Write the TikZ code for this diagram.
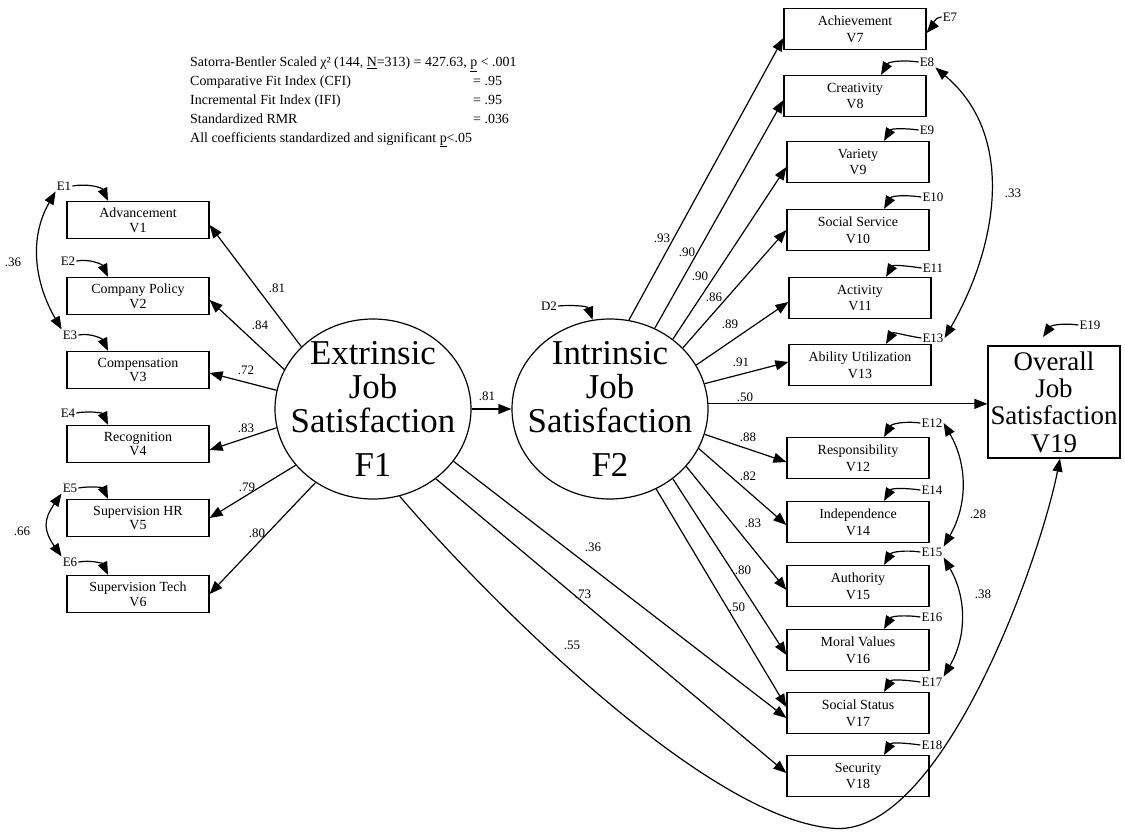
\documentclass[tikz,border=0pt]{standalone}
\usepackage{fontspec}
\setmainfont{Liberation Serif}
\usetikzlibrary{arrows.meta,shapes.geometric}
\tikzset{
 obs/.style={draw, line width=1.2bp, minimum width=142bp, minimum height=37bp, inner sep=0pt, align=center, font=\fontsize{14}{15}\selectfont},
 obsr/.style={obs, minimum height=41bp, font=\fontsize{14}{17}\selectfont},
 lat/.style={draw, ellipse, line width=1.2bp, minimum width=196bp, minimum height=180bp, inner sep=0pt},
 lattext/.style={align=center, font=\fontsize{35}{34}\selectfont, inner sep=0pt},
 coef/.style={font=\fontsize{13}{14}\selectfont, inner sep=1bp},
 err/.style={font=\fontsize{13}{14}\selectfont, inner sep=1bp},
 pth/.style={line width=1.2bp, -{Triangle[length=13bp,width=10bp]}},
 cov/.style={line width=1.2bp, {Triangle[length=13bp,width=10bp]}-{Triangle[length=13bp,width=10bp]}},
}
\begin{document}
\begin{tikzpicture}[x=1bp,y=1bp]
\useasboundingbox (0,0) rectangle (1125,-835);

% fit statistics
\node[anchor=north west, inner sep=0pt, font=\fontsize{14}{19}\selectfont] (fit) at (190,-53) {\begin{tabular}{@{}p{283bp}@{}l@{}}
\multicolumn{2}{@{}l@{}}{Satorra-Bentler Scaled χ² (144, \underline{N}=313) = 427.63, \underline{p} < .001}\\
Comparative Fit Index (CFI) & = .95\\
Incremental Fit Index (IFI) & = .95\\
Standardized RMR & = .036\\
\multicolumn{2}{@{}l@{}}{All coefficients standardized and significant \underline{p}<.05}
\end{tabular}};

% left observed
\node[obs] (V1) at (138,-220) {Advancement\\V1};
\node[obs] (V2) at (138,-296) {Company Policy\\V2};
\node[obs] (V3) at (138,-370) {Compensation\\V3};
\node[obs] (V4) at (138,-444) {Recognition\\V4};
\node[obs] (V5) at (138,-518) {Supervision HR\\V5};
\node[obs] (V6) at (138,-594) {Supervision Tech\\V6};

% right observed
\node[obsr] (V7) at (855,-29) {Achievement\\V7};
\node[obsr] (V8) at (855,-96) {Creativity\\V8};
\node[obsr] (V9) at (858,-162) {Variety\\V9};
\node[obsr] (V10) at (858,-230) {Social Service\\V10};
\node[obsr] (V11) at (860,-298) {Activity\\V11};
\node[obsr] (V13) at (860,-365) {Ability Utilization\\V13};
\node[obsr] (V12) at (858,-458) {Responsibility\\V12};
\node[obsr] (V14) at (858,-522) {Independence\\V14};
\node[obsr] (V15) at (858,-586) {Authority\\V15};
\node[obsr] (V16) at (858,-650) {Moral Values\\V16};
\node[obsr] (V17) at (858,-713) {Social Status\\V17};
\node[obsr] (V18) at (858,-776) {Security\\V18};

\node[draw, line width=1.2bp, minimum width=132bp, minimum height=112bp, inner sep=0pt, align=center, font=\fontsize{27}{27.5}\selectfont] (V19) at (1054,-402) {Overall\\Job\\Satisfaction\\V19};

% latent
\node[lat] (F1) at (373,-409) {};
\node[lattext] (F1t) at (373,-409) {Extrinsic\\Job\\Satisfaction\\[10bp]F1};
\node[lat] (F2) at (610,-409) {};
\node[lattext] (F2t) at (610,-409) {Intrinsic\\Job\\Satisfaction\\[10bp]F2};

% error labels
\node[err] (E1) at (64,-186) {E1};
\node[err] (E2) at (68,-261) {E2};
\node[err] (E3) at (70,-335) {E3};
\node[err] (E4) at (68,-413) {E4};
\node[err] (E5) at (70,-488) {E5};
\node[err] (E6) at (70,-562) {E6};
\node[err] (E7) at (950,-17) {E7};
\node[err] (E8) at (927,-62) {E8};
\node[err] (E9) at (927,-130) {E9};
\node[err] (E10) at (933,-197) {E10};
\node[err] (E11) at (933,-268) {E11};
\node[err] (E13) at (933,-338) {E13};
\node[err] (E12) at (932,-423) {E12};
\node[err] (E14) at (932,-490) {E14};
\node[err] (E15) at (932,-552) {E15};
\node[err] (E16) at (932,-617) {E16};
\node[err] (E17) at (932,-682) {E17};
\node[err] (E18) at (932,-745) {E18};
\node[err] (E19) at (1090,-325) {E19};
\node[err] (D2) at (549,-306) {D2};
\coordinate (e19t) at (1043,-337);
\coordinate (low) at (830,-828);

% error arrows left
\foreach \i in {1,...,6}{\draw[pth] (E\i.east) to[out=10,in=115] ([xshift=-30bp]V\i.north);}
% error arrows right
\draw[pth] (E7.west) to[out=185,in=50] ([yshift=-4bp]V7.east);
\foreach \i in {8,9,10,11,13,12,14,15,16,17,18}{\draw[pth] (E\i.west) to[out=172,in=60] ([xshift=26bp]V\i.north);}
\draw[pth] (E19.west) to[out=172,in=55] (e19t);
\draw[pth] (D2.east) to[out=5,in=110] (F2.101);

% covariances
\draw[cov] (E1.south west) to[out=240,in=120] (E3.north west);
\draw[cov] (E5.south west) to[out=235,in=125,looseness=1.3] (E6.north west);
\draw[cov] (E8.south east) to[out=-40,in=60] (E13.east);
\draw[cov] (E12.east) to[out=-60,in=60] (E15.north east);
\draw[cov] (E15.south east) to[out=-60,in=60] (E17.north east);

% F1 paths
\draw[pth] (F1.139) -- ([yshift=-5bp]V1.east);
\draw[pth] (F1.156) -- ([yshift=-4bp]V2.east);
\draw[pth] (F1.169) -- ([yshift=-3bp]V3.east);
\draw[pth] (F1.191) -- ([yshift=-6bp]V4.east);
\draw[pth] (F1.216) -- (V5.east);
\draw[pth] (F1.232) -- (V6.east);
\draw[pth] (F1) -- (F2);
\draw[pth] (F1.-33) -- ([yshift=-5bp]V17.west);
\draw[pth] (F1.-48) -- ([yshift=3bp]V18.west);
\draw[pth] (F1.-73) .. controls (480,-590) and (700,-815) .. (low) .. controls (940,-843) and (1040,-560) .. ([xshift=6bp]V19.south);

% F2 paths
\draw[pth] (F2.78) -- ([yshift=-9bp]V7.west);
\draw[pth] (F2.61) -- ([yshift=-4bp]V8.west);
\draw[pth] (F2.48) -- ([yshift=-5bp]V9.west);
\draw[pth] (F2.40) -- (V10.west);
\draw[pth] (F2.27) -- ([yshift=-4bp]V11.west);
\draw[pth] (F2.15) -- ([yshift=3bp]V13.west);
\draw[pth] (F2.3) -- (F2.3 -| V19.west);
\draw[pth] (F2.-15) -- ([yshift=-4bp]V12.west);
\draw[pth] (F2.-24.5) -- ([yshift=-3bp]V14.west);
\draw[pth] (F2.-37) -- ([yshift=-4bp]V15.west);
\draw[pth] (F2.-48) -- ([yshift=-5bp]V16.west);
\draw[pth] (F2.-60) -- ([yshift=6bp]V17.west);

% coefficients
\node[coef] (c1) at (277,-288) {.81};
\node[coef] (c2) at (260,-325) {.84};
\node[coef] (c3) at (246,-370) {.72};
\node[coef] (c4) at (246,-428) {.83};
\node[coef] (c5) at (247,-487) {.79};
\node[coef] (c6) at (257,-533) {.80};
\node[coef] (c7) at (487,-396) {.81};
\node[coef] (c8) at (662,-238) {.93};
\node[coef] (c9) at (687,-252) {.90};
\node[coef] (c10) at (700,-276) {.90};
\node[coef] (c11) at (714,-297) {.86};
\node[coef] (c12) at (730,-324) {.89};
\node[coef] (c13) at (741,-362) {.91};
\node[coef] (c14) at (745,-397) {.50};
\node[coef] (c15) at (748,-437) {.88};
\node[coef] (c16) at (748,-476) {.82};
\node[coef] (c17) at (753,-523) {.83};
\node[coef] (c18) at (743,-570) {.80};
\node[coef] (c19) at (737,-607) {.50};
\node[coef] (c20) at (593,-547) {.36};
\node[coef] (c21) at (583,-594) {.73};
\node[coef] (c22) at (572,-645) {.55};
\node[coef] (c23) at (13,-262) {.36};
\node[coef] (c24) at (22,-531) {.66};
\node[coef] (c25) at (1013,-193) {.33};
\node[coef] (c26) at (978,-514) {.28};
\node[coef] (c27) at (983,-594) {.38};
\end{tikzpicture}
\end{document}
